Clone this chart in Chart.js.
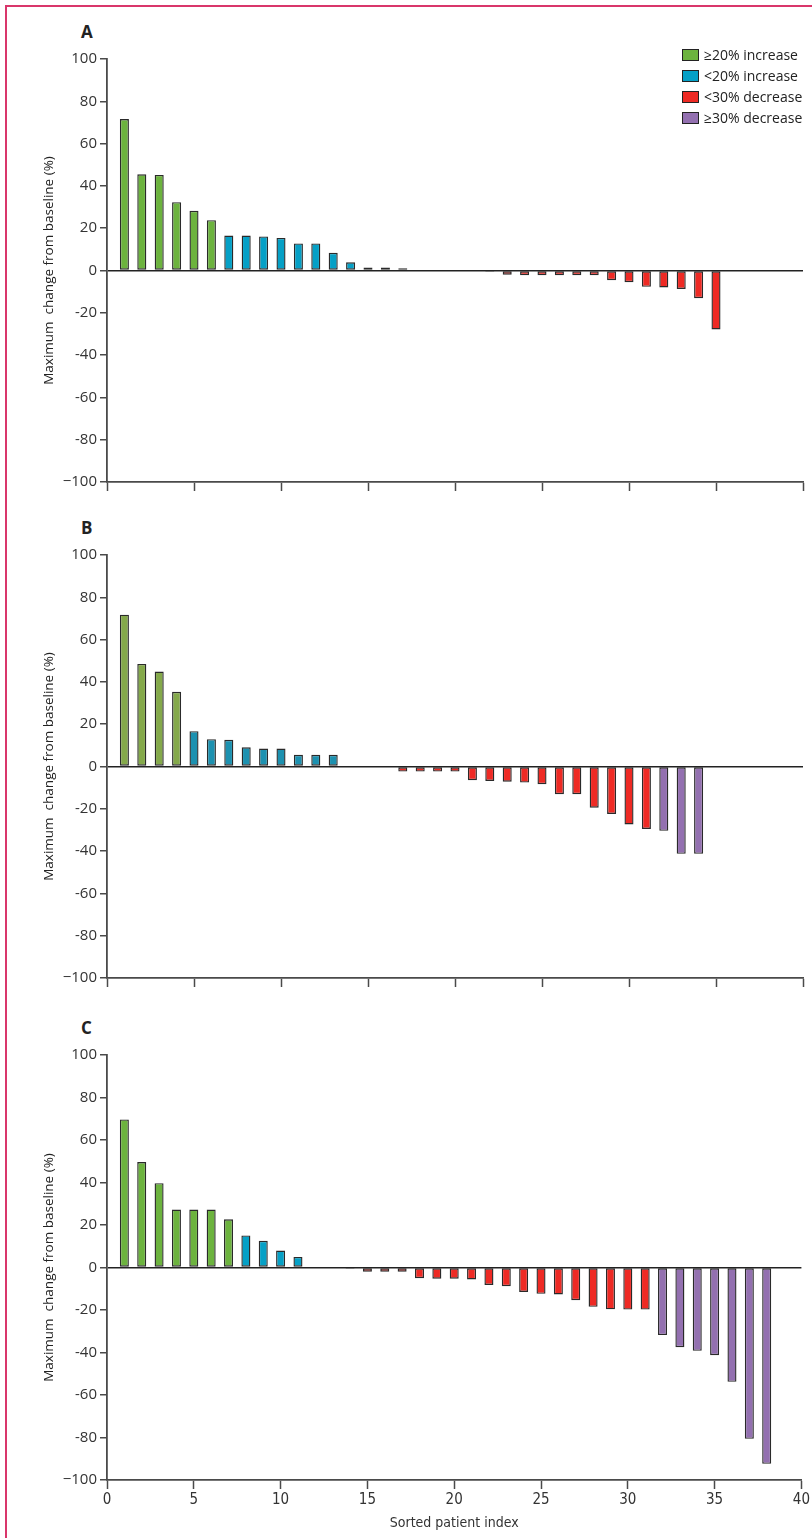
<!DOCTYPE html>
<html>
<head>
<meta charset="utf-8">
<script src="https://cdn.jsdelivr.net/npm/chart.js@4"></script>
<style>
  body { margin: 0; background: #fff; }
  #page { position: relative; width: 812px; height: 1538px; overflow: hidden; font-family: "Open Sans", sans-serif; }
  .frame-left { position: absolute; left: 5px; top: 5px; width: 1.5px; height: 1533px; background: #d9366b; }
  .frame-top { position: absolute; left: 5px; top: 5px; width: 807px; height: 1.5px; background: #d9366b; }
  canvas { position: absolute; left: 0; }
  .panel-label { position: absolute; left: 81px; font-weight: bold; font-size: 17px; color: #222; }
  #legend { position: absolute; left: 682px; top: 44px; font-size: 14px; color: #222; }
  .leg-row { height: 21px; display: flex; align-items: center; }
  .leg-box { width: 15px; height: 10px; border: 1px solid #222; margin-right: 5px; }
</style>
</head>
<body>
<div id="page">
  <div class="frame-left"></div>
  <div class="frame-top"></div>
  <div class="panel-label" style="top: 20px;">A</div>
  <div class="panel-label" style="top: 516px;">B</div>
  <div class="panel-label" style="top: 1016px;">C</div>
  <canvas id="chartA" width="812" height="500" style="top: 0px;"></canvas>
  <canvas id="chartB" width="812" height="496" style="top: 500px;"></canvas>
  <canvas id="chartC" width="812" height="542" style="top: 996px;"></canvas>
  <div id="legend"></div>
</div>
<script>
// maximum change from baseline (%), one value per sorted patient (index 1..n)
const panelA = [71.6, 45.5, 45.2, 32.3, 28.2, 23.8, 16.5, 16.5, 16.1, 15.4, 12.8, 12.8, 8.4, 3.9, 1.4, 1.4, 1.1,
  0, 0, 0, 0, -0.6, -2.0, -2.2, -2.2, -2.2, -2.2, -2.2, -4.6, -5.5, -7.7, -8.0, -8.7, -13.1, -27.9];
const panelB = [71.8, 48.5, 44.9, 35.3, 16.7, 12.9, 12.6, 9.1, 8.5, 8.5, 5.5, 5.5, 5.5,
  0, 0, 0, -2.4, -2.4, -2.4, -2.4, -6.5, -6.8, -7.2, -7.6, -8.4, -13.1, -13.1, -19.5, -22.4, -27.4, -29.5,
  -30.4, -41.3, -41.3];
const panelC = [69.7, 49.6, 39.7, 27.3, 27.3, 27.3, 22.7, 15.1, 12.6, 8.0, 5.0,
  0, 0, -0.6, -2.0, -2.0, -2.0, -5.0, -5.3, -5.3, -5.6, -8.2, -8.8, -11.5, -12.4, -12.7, -15.4, -18.5, -19.7,
  -19.8, -19.8, -31.8, -37.5, -39.2, -41.3, -53.8, -80.6, -92.4];

const groupLabels = ["≥20% increase", "<20% increase", "<30% decrease", "≥30% decrease"];
const colorsAC = ["#6cb33e", "#05a0c6", "#ee2a24", "#9370b0"];
const colorsB = ["#84a94a", "#1c91b0", "#ee2a24", "#9370b0"];

const xTicks = [0, 5, 10, 15, 20, 25, 30, 35, 40];
const yTicks = [-100, -80, -60, -40, -20, 0, 20, 40, 60, 80, 100];

const axisColor = "#4a4a4a";
const tickFont = { family: "'Open Sans', sans-serif", size: 15 };
const narrowFont = { family: "'Liberation Sans Narrow', 'DejaVu Sans Condensed', sans-serif", size: 15 };

function groupOf(v) {
  if (v >= 20) return 0;
  if (v > 0) return 1;
  if (v <= -30) return 3;
  if (v < 0) return 2;
  return -1;
}

function buildDatasets(values, colors) {
  return groupLabels.map((label, g) => ({
    label: label,
    data: values.map((v, i) => ({ x: i + 1, y: v })).filter(p => groupOf(p.y) === g),
    backgroundColor: colors[g],
    borderColor: "#2a2a2a",
    borderWidth: 1.4,
    borderSkipped: false,
    grouped: false,
    barPercentage: 0.52,
    categoryPercentage: 1.0
  }));
}

function makeChart(id, values, colors, padTop, padBottom, showX) {
  const ctx = document.getElementById(id).getContext("2d");
  return new Chart(ctx, {
    type: "bar",
    data: { datasets: buildDatasets(values, colors) },
    options: {
      responsive: false,
      animation: false,
      layout: { padding: { top: padTop, bottom: padBottom, left: 0, right: 9 } },
      plugins: { legend: { display: false }, tooltip: { enabled: false } },
      scales: {
        x: {
          type: "linear",
          min: 0,
          max: 40,
          offset: false,
          afterBuildTicks: s => { s.ticks = xTicks.map(v => ({ value: v })); },
          afterFit: s => { if (showX) s.height = 52; },
          ticks: { display: showX, padding: 2, color: "#333", font: narrowFont, maxRotation: 0 },
          grid: { offset: false, drawOnChartArea: false, tickLength: 9, tickColor: axisColor, tickWidth: 1.5 },
          border: { color: axisColor, width: 1.8 },
          title: {
            display: showX,
            text: "Sorted patient index",
            color: "#333",
            font: { family: narrowFont.family, size: 14 },
            padding: { top: 0, bottom: 0 }
          }
        },
        y: {
          min: -100,
          max: 100,
          afterBuildTicks: s => { s.ticks = yTicks.map(v => ({ value: v })); },
          afterFit: s => { s.width = 107; },
          ticks: {
            padding: 3,
            color: "#333",
            font: tickFont,
            callback: v => (v === -100 ? "\u2212100" : String(v))
          },
          grid: {
            color: c => (c.tick && c.tick.value === 0 ? "#222" : "rgba(0,0,0,0)"),
            lineWidth: 1.5,
            tickLength: 7,
            tickColor: axisColor,
            tickWidth: 1.5
          },
          border: { color: axisColor, width: 1.8 },
          title: {
            display: true,
            text: "Maximum  change from baseline (%)",
            color: "#222",
            font: { family: "'Open Sans', sans-serif", size: 13.5 },
            padding: { top: 41, bottom: 0 }
          }
        }
      }
    }
  });
}

makeChart("chartA", panelA, colorsAC, 59, 9, false);
makeChart("chartB", panelB, colorsB, 55, 9, false);
makeChart("chartC", panelC, colorsAC, 59, 6, true);

// legend for panel A, built from the same labels and colours
const legend = document.getElementById("legend");
groupLabels.forEach((label, g) => {
  const row = document.createElement("div");
  row.className = "leg-row";
  const box = document.createElement("span");
  box.className = "leg-box";
  box.style.background = colorsAC[g];
  const text = document.createElement("span");
  text.textContent = label;
  row.appendChild(box);
  row.appendChild(text);
  legend.appendChild(row);
});
</script>
</body>
</html>
